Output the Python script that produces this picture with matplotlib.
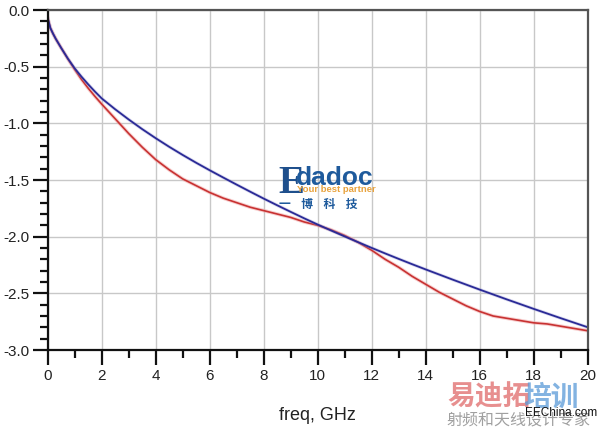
import matplotlib
matplotlib.use("Agg")
import matplotlib.pyplot as plt
from matplotlib.ticker import MultipleLocator

plt.rcParams['font.family'] = ['Liberation Sans', 'Noto Sans CJK SC', 'DejaVu Sans']

# ---- data ----
freq_blue = [0, 0.1, 0.2, 0.3, 0.5, 0.75, 1, 1.25, 1.5, 1.75, 2, 2.5, 3, 3.5, 4, 4.5, 5, 5.5,
             6, 6.5, 7, 7.5, 8, 8.5, 9, 9.5, 10, 10.5, 11, 11.5, 12, 12.5, 13, 13.5, 14, 14.5,
             15, 15.5, 16, 16.5, 17, 17.5, 18, 18.5, 19, 19.5, 20]
blue_vals = [-0.070, -0.160, -0.210, -0.255, -0.335, -0.430, -0.515, -0.588, -0.656, -0.720,
             -0.780, -0.876, -0.966, -1.051, -1.131, -1.207, -1.279, -1.348, -1.414, -1.478,
             -1.541, -1.603, -1.664, -1.723, -1.781, -1.838, -1.893, -1.946, -1.998, -2.049,
             -2.099, -2.148, -2.196, -2.243, -2.289, -2.334, -2.379, -2.423, -2.467, -2.510,
             -2.553, -2.595, -2.637, -2.678, -2.719, -2.759, -2.799]

freq_red = [0, 0.1, 0.2, 0.3, 0.5, 0.75, 1, 1.25, 1.5, 1.75, 2, 2.5, 3, 3.5, 4, 4.5, 5, 5.5, 6,
            6.5, 7, 7.5, 8, 8.5, 9, 9.5, 10, 10.5, 11, 11.5, 12, 12.5, 13, 13.5, 14, 14.5, 15,
            15.5, 16, 16.5, 17, 17.5, 18, 18.5, 19, 19.5, 20]
red_vals = [-0.070, -0.160, -0.210, -0.255, -0.335, -0.432, -0.525, -0.612, -0.690, -0.762,
            -0.830, -0.960, -1.090, -1.210, -1.320, -1.410, -1.490, -1.550, -1.610, -1.660,
            -1.700, -1.740, -1.770, -1.800, -1.830, -1.870, -1.900, -1.940, -1.990, -2.050,
            -2.120, -2.200, -2.270, -2.350, -2.420, -2.490, -2.550, -2.610, -2.660, -2.700,
            -2.720, -2.740, -2.760, -2.770, -2.790, -2.810, -2.830]

x_ticks = [0, 2, 4, 6, 8, 10, 12, 14, 16, 18, 20]
y_ticks = [-3.0, -2.5, -2.0, -1.5, -1.0, -0.5, 0.0]
x_label = "freq, GHz"

fig = plt.figure(figsize=(6.0, 4.28), dpi=100)
ax = fig.add_axes([0.0795, 0.1822, 0.9, 0.7944])

ax.plot(freq_red, red_vals, color='#F0A0A0', lw=2.6, alpha=0.5)
ax.plot(freq_red, red_vals, color='#C83232', lw=1.2)
ax.plot(freq_blue, blue_vals, color='#9090D0', lw=2.4, alpha=0.35)
ax.plot(freq_blue, blue_vals, color='#2A2A96', lw=1.3)

ax.set_xlim(0, 20)
ax.set_ylim(-3.0, 0.0)
ax.set_xticks(x_ticks)
ax.set_xticklabels([str(t) for t in x_ticks])
ax.set_yticks(y_ticks)
ax.set_yticklabels([f"{t:.1f}" for t in y_ticks])
ax.xaxis.set_minor_locator(MultipleLocator(1))
ax.yaxis.set_minor_locator(MultipleLocator(0.1))

ax.grid(True, which='major', color='#C8C8C8', lw=1.0)
ax.set_axisbelow(True)

ax.tick_params(axis='both', which='major', direction='out', length=11, width=1.6,
               color='#111111', labelsize=11, labelcolor='#222222', pad=2)
ax.tick_params(axis='both', which='minor', direction='out', length=5.5, width=1.6,
               color='#111111')
ax.tick_params(axis='x', which='major', pad=3)

for side in ['left', 'bottom']:
    ax.spines[side].set_color('#111111')
    ax.spines[side].set_linewidth(1.6)
for side in ['top', 'right']:
    ax.spines[side].set_color('#555555')
    ax.spines[side].set_linewidth(1.6)

ax.set_xlabel(x_label, fontsize=13, color='#222222', labelpad=17)

# ---- watermark: Edadoc logo ----
fig.text(278/600, 1-193/428, "E", fontsize=28, color='#1E4F8C', fontweight='bold',
         family=['Liberation Serif', 'DejaVu Serif'])
fig.text(296/600, 1-185/428, "dadoc", fontsize=19, color='#1E5A9C', fontweight='bold')
fig.text(297/600, 1-192.5/428, "Your best partner", fontsize=6.8, color='#E8A23C',
         fontweight='bold')
fig.text(279/600, 1-207.5/428, "一    博    科    技", fontsize=8.5, color='#1E5A9C',
         fontweight='bold', family=['Noto Sans CJK SC', 'DejaVu Sans'])

# ---- watermark: bottom-right ----
fig.text(447/600, 1-406/428, "易迪拓", fontsize=20, color='#E06A6A', alpha=0.75,
         fontweight='bold', family=['Noto Sans CJK SC', 'DejaVu Sans'])
fig.text(523/600, 1-406/428, "培训", fontsize=20, color='#5A9AD8', alpha=0.75,
         fontweight='bold', family=['Noto Sans CJK SC', 'DejaVu Sans'])
fig.text(446/600, 1-425/428, "射频和天线设计专家", fontsize=11.5, color='#A0A0A0',
         family=['Noto Sans CJK SC', 'DejaVu Sans'])
fig.text(525/600, 1-416/428, "EEChina.com", fontsize=8.5, color='#111111')

fig.savefig("out.png", dpi=100)
